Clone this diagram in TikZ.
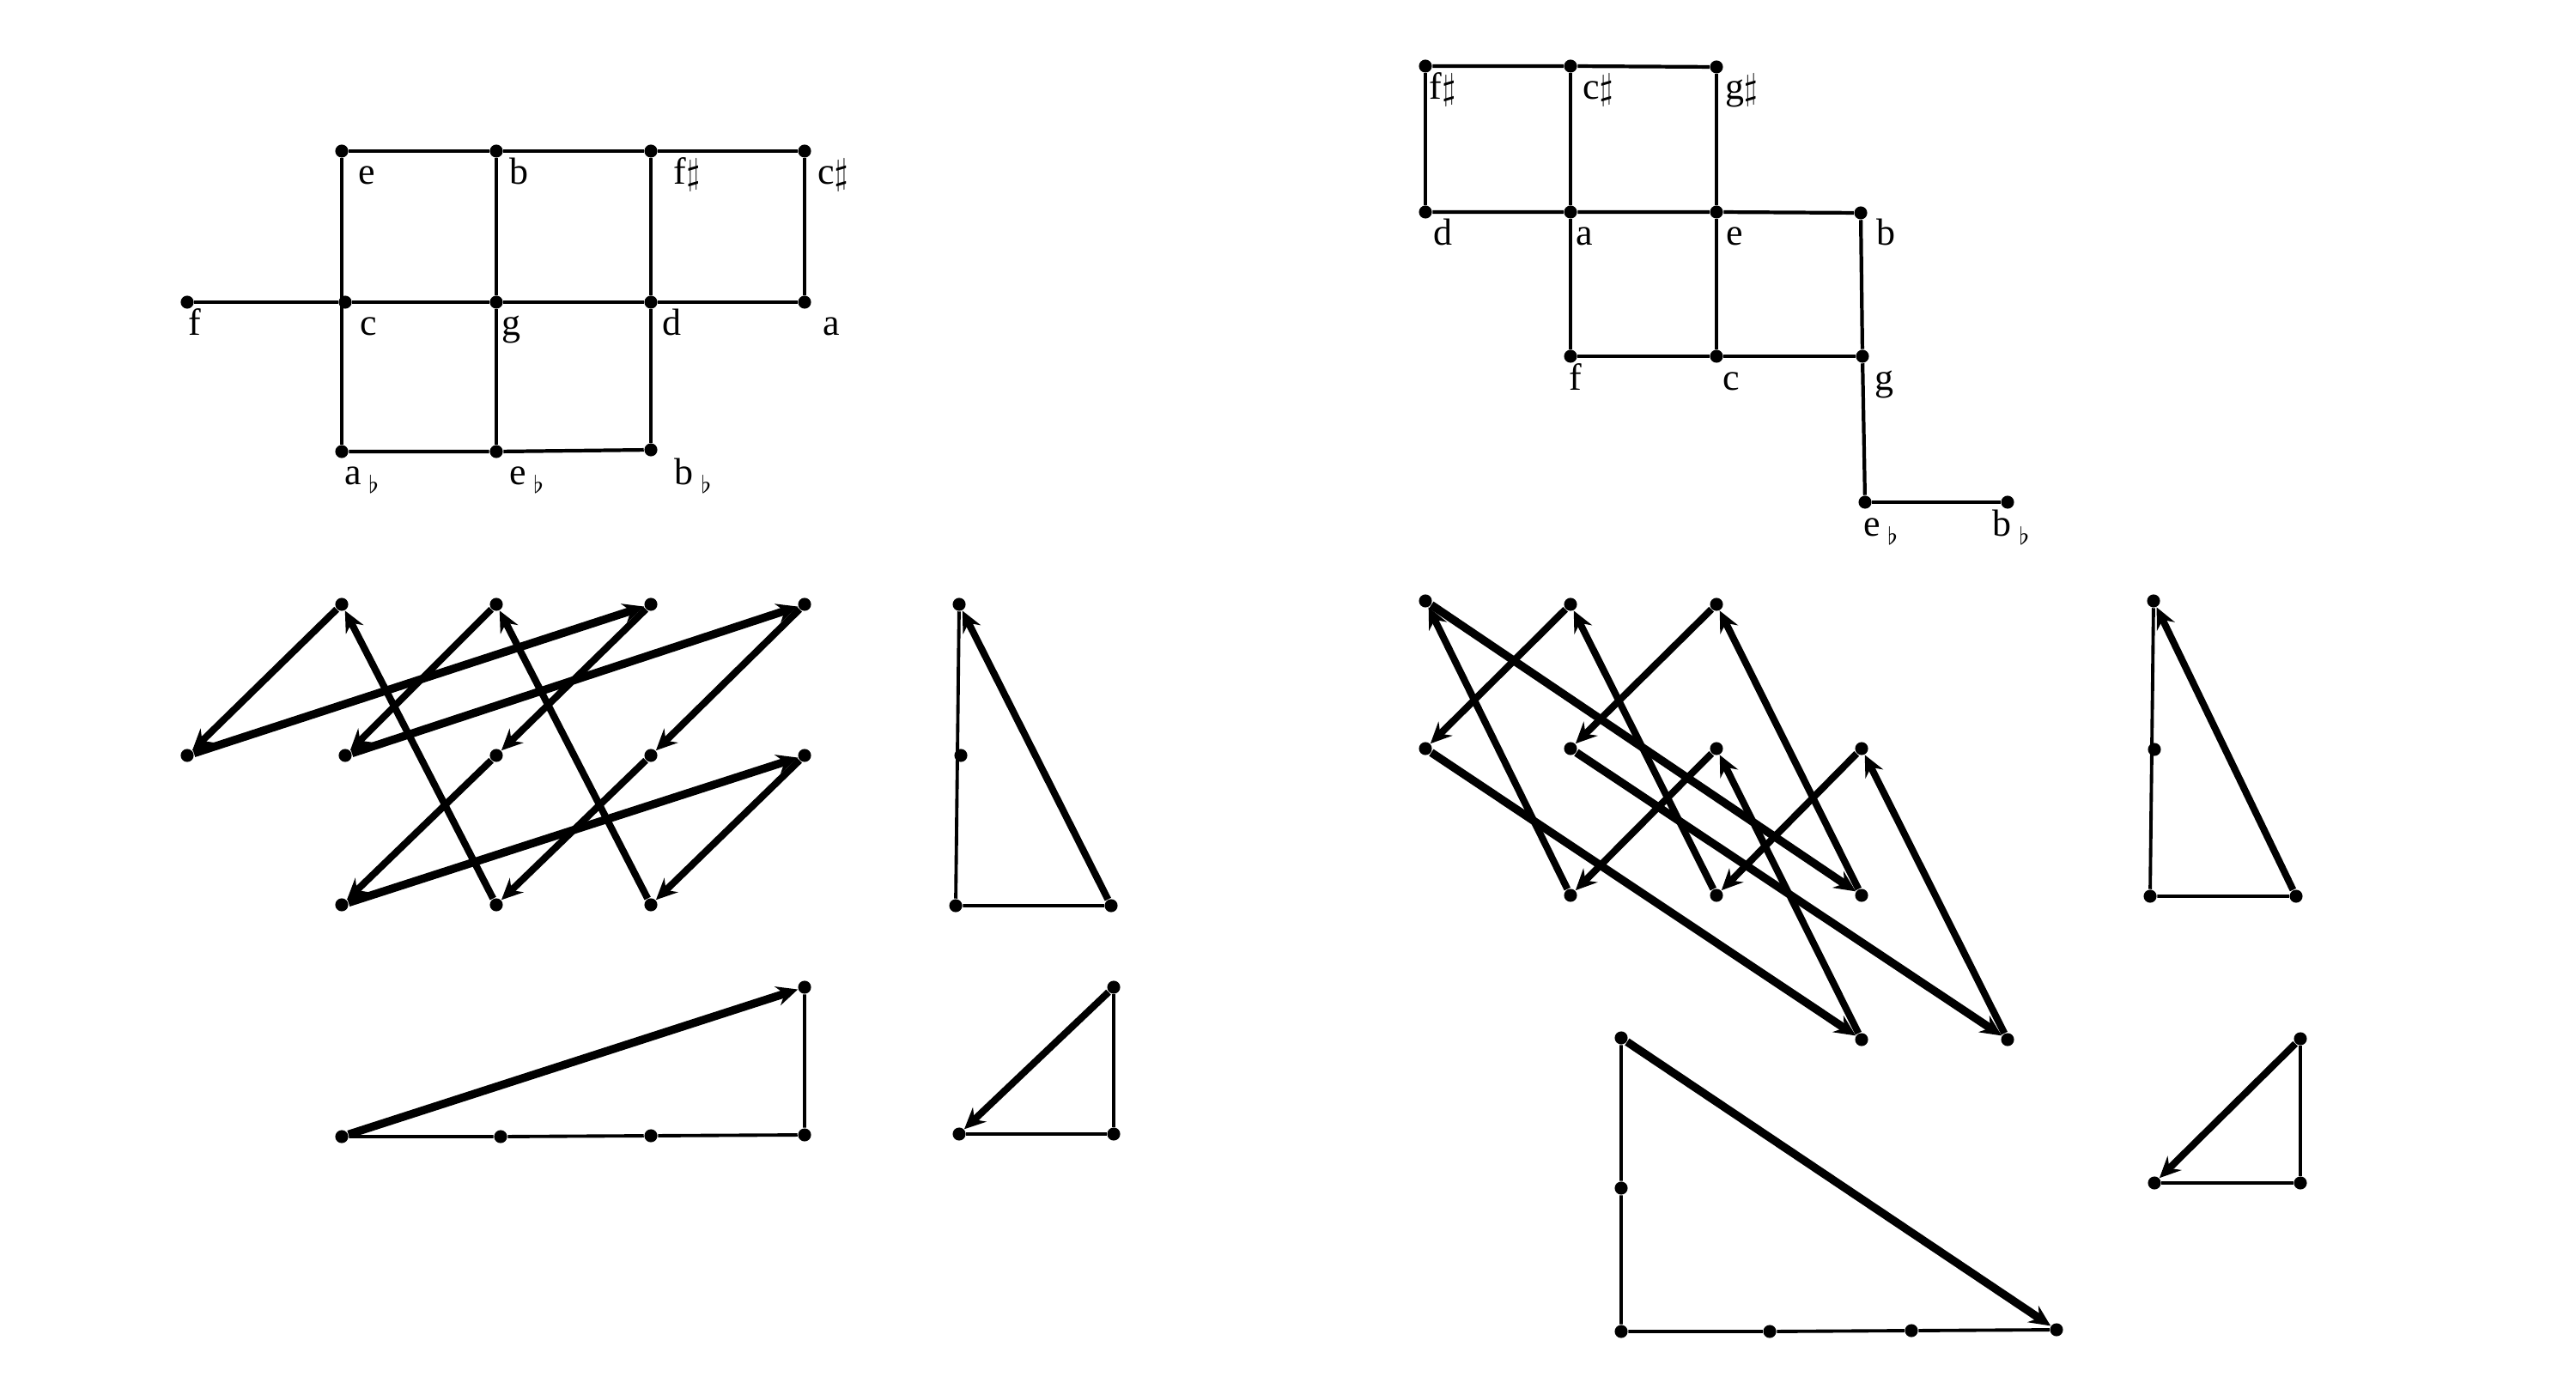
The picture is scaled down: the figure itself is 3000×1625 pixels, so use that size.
\documentclass[tikz,border=0pt]{standalone}
\usepackage{fontspec}
\setmainfont{Liberation Serif}
\usetikzlibrary{arrows.meta}
\newcommand\shp{{\fontsize{13}{13}\selectfont$\sharp$}}
\newcommand\flt{\hspace{2.5pt}\raisebox{-2.8pt}{\fontsize{8}{8}\selectfont$\flat$}}
\begin{document}
\begin{tikzpicture}[x=0.01cm, y=-0.01cm,
  dot/.style={circle, fill=black, inner sep=0pt, minimum size=4.3pt},
  gridline/.style={line width=1.2pt},
  side/.style={line width=1.1pt},
  arr/.style={line width=2.3pt, -{Stealth[length=7pt,width=6.5pt,inset=2.4pt]}},
  arrL/.style={arr, line width=2.7pt},
  lbl/.style={anchor=base, inner sep=0pt, font=\fontsize{12.5}{14}\selectfont}]
\useasboundingbox (0,0) rectangle (3000,1625);

% ---------- top-left grid ----------
\node[dot] (Le)  at (398,176) {};
\node[dot] (Lb)  at (578,176) {};
\node[dot] (Lfs) at (758,176) {};
\node[dot] (Lcs) at (937,176) {};
\node[dot] (Lf)  at (218,352) {};
\node[dot] (Lc)  at (402,352) {};
\node[dot] (Lg)  at (578,352) {};
\node[dot] (Ld)  at (758,352) {};
\node[dot] (La)  at (937,352) {};
\node[dot] (Lab) at (398,526) {};
\node[dot] (Leb) at (578,526) {};
\node[dot] (Lbb) at (758,524) {};
\draw[gridline] (Le) -- (Lb) -- (Lfs) -- (Lcs);
\draw[gridline] (Lf) -- (Lc) -- (Lg) -- (Ld) -- (La);
\draw[gridline] (Lab) -- (Leb) -- (Lbb);
\draw[gridline] (Le) -- (Lab);
\draw[gridline] (Lb) -- (Lg) -- (Leb);
\draw[gridline] (Lfs) -- (Ld) -- (Lbb);
\draw[gridline] (Lcs) -- (La);
\node[lbl] (Le-l)  at (427,215) {e};
\node[lbl] (Lb-l)  at (604,215) {b};
\node[lbl] (Lfs-l) at (800,215) {f\shp};
\node[lbl] (Lcs-l) at (970,215) {c\shp};
\node[lbl] (Lf-l)  at (227,391) {f};
\node[lbl] (Lc-l)  at (429,391) {c};
\node[lbl] (Lg-l)  at (595,391) {g};
\node[lbl] (Ld-l)  at (782,391) {d};
\node[lbl] (La-l)  at (968,391) {a};
\node[lbl] (Lab-l) at (421,565) {a\flt};
\node[lbl] (Leb-l) at (613,565) {e\flt};
\node[lbl] (Lbb-l) at (807,565) {b\flt};

% ---------- top-right grid ----------
\node[dot] (Rfs) at (1660,77) {};
\node[dot] (Rcs) at (1829,77) {};
\node[dot] (Rgs) at (1999,78) {};
\node[dot] (Rd)  at (1660,247) {};
\node[dot] (Ra)  at (1829,247) {};
\node[dot] (Re)  at (1999,247) {};
\node[dot] (Rb)  at (2167,248) {};
\node[dot] (Rf)  at (1829,415) {};
\node[dot] (Rc)  at (1999,415) {};
\node[dot] (Rg)  at (2169,415) {};
\node[dot] (Reb) at (2172,585) {};
\node[dot] (Rbb) at (2338,585) {};
\draw[gridline] (Rfs) -- (Rcs) -- (Rgs);
\draw[gridline] (Rd) -- (Ra) -- (Re) -- (Rb);
\draw[gridline] (Rf) -- (Rc) -- (Rg);
\draw[gridline] (Reb) -- (Rbb);
\draw[gridline] (Rfs) -- (Rd);
\draw[gridline] (Rcs) -- (Ra) -- (Rf);
\draw[gridline] (Rgs) -- (Re) -- (Rc);
\draw[gridline] (Rb) -- (Rg) -- (Reb);
\node[lbl] (Rfs-l) at (1680,116) {f\shp};
\node[lbl] (Rcs-l) at (1861,116) {c\shp};
\node[lbl] (Rgs-l) at (2028,116) {g\shp};
\node[lbl] (Rd-l)  at (1680,286) {d};
\node[lbl] (Ra-l)  at (1845,286) {a};
\node[lbl] (Re-l)  at (2020,286) {e};
\node[lbl] (Rb-l)  at (2196,286) {b};
\node[lbl] (Rf-l)  at (1835,455) {f};
\node[lbl] (Rc-l)  at (2016,455) {c};
\node[lbl] (Rg-l)  at (2194,455) {g};
\node[lbl] (Reb-l) at (2190,625) {e\flt};
\node[lbl] (Rbb-l) at (2342,625) {b\flt};

% ---------- bottom-left zigzag ----------
\node[dot] (P1) at (398,704) {};
\node[dot] (P2) at (578,704) {};
\node[dot] (P3) at (758,704) {};
\node[dot] (P4) at (937,704) {};
\node[dot] (Q0) at (218,880) {};
\node[dot] (Q1) at (402,880) {};
\node[dot] (Q2) at (578,880) {};
\node[dot] (Q3) at (758,880) {};
\node[dot] (Q4) at (937,880) {};
\node[dot] (R1) at (398,1054) {};
\node[dot] (R2) at (578,1054) {};
\node[dot] (R3) at (758,1054) {};
\draw[arr]  (P1) -- (Q0);
\draw[arrL] (Q0) -- (P3);
\draw[arr]  (P3) -- (Q2);
\draw[arr]  (Q2) -- (R1);
\draw[arrL] (R1) -- (Q4);
\draw[arr]  (Q4) -- (R3);
\draw[arr]  (R3) -- (P2);
\draw[arr]  (P2) -- (Q1);
\draw[arrL] (Q1) -- (P4);
\draw[arr]  (P4) -- (Q3);
\draw[arr]  (Q3) -- (R2);
\draw[arr]  (R2) -- (P1);

% triangle right of left zigzag
\node[dot] (t1a) at (1117,704) {};
\node[dot] (t1m) at (1119,880) {};
\node[dot] (t1b) at (1113,1055) {};
\node[dot] (t1c) at (1294,1055) {};
\draw[side] (t1a) -- (t1b) -- (t1c);
\draw[arr] (t1c) -- (t1a);

% lower-left long triangle
\node[dot] (t2a) at (398,1324) {};
\node[dot] (t2b) at (583,1324) {};
\node[dot] (t2c) at (758,1323) {};
\node[dot] (t2d) at (937,1322) {};
\node[dot] (t2e) at (937,1150) {};
\draw[side] (t2a) -- (t2b) -- (t2c) -- (t2d) -- (t2e);
\draw[arrL] (t2a) -- (t2e);

% small triangle
\node[dot] (t3a) at (1297,1150) {};
\node[dot] (t3b) at (1297,1321) {};
\node[dot] (t3c) at (1117,1321) {};
\draw[side] (t3a) -- (t3b) -- (t3c);
\draw[arr] (t3a) -- (t3c);

% ---------- bottom-right zigzag ----------
\node[dot] (A1) at (1660,700) {};
\node[dot] (A2) at (1829,704) {};
\node[dot] (A3) at (1999,704) {};
\node[dot] (B1) at (1660,872) {};
\node[dot] (B2) at (1829,872) {};
\node[dot] (B3) at (1999,872) {};
\node[dot] (B4) at (2168,872) {};
\node[dot] (C1) at (1829,1043) {};
\node[dot] (C2) at (1999,1043) {};
\node[dot] (C3) at (2168,1043) {};
\node[dot] (D1) at (2168,1211) {};
\node[dot] (D2) at (2338,1211) {};
\draw[arr]  (C2) -- (A2);
\draw[arr]  (A2) -- (B1);
\draw[arrL] (B1) -- (D1);
\draw[arr]  (D1) -- (B3);
\draw[arr]  (B3) -- (C1);
\draw[arr]  (C1) -- (A1);
\draw[arrL] (A1) -- (C3);
\draw[arr]  (C3) -- (A3);
\draw[arr]  (A3) -- (B2);
\draw[arrL] (B2) -- (D2);
\draw[arr]  (D2) -- (B4);
\draw[arr]  (B4) -- (C2);

% right triangle
\node[dot] (t4a) at (2508,700) {};
\node[dot] (t4m) at (2509,873) {};
\node[dot] (t4b) at (2504,1044) {};
\node[dot] (t4c) at (2674,1044) {};
\draw[side] (t4a) -- (t4b) -- (t4c);
\draw[arr] (t4c) -- (t4a);

% small right triangle
\node[dot] (t5a) at (2679,1210) {};
\node[dot] (t5b) at (2679,1378) {};
\node[dot] (t5c) at (2509,1378) {};
\draw[side] (t5a) -- (t5b) -- (t5c);
\draw[arr] (t5a) -- (t5c);

% big triangle
\node[dot] (t6a) at (1888,1209) {};
\node[dot] (t6m) at (1888,1384) {};
\node[dot] (t6b) at (1888,1551) {};
\node[dot] (t6c) at (2061,1551) {};
\node[dot] (t6d) at (2226,1550) {};
\node[dot] (t6e) at (2395,1549) {};
\draw[side] (t6a) -- (t6m) -- (t6b) -- (t6c) -- (t6d) -- (t6e);
\draw[arrL] (t6a) -- (t6e);
\end{tikzpicture}
\end{document}
